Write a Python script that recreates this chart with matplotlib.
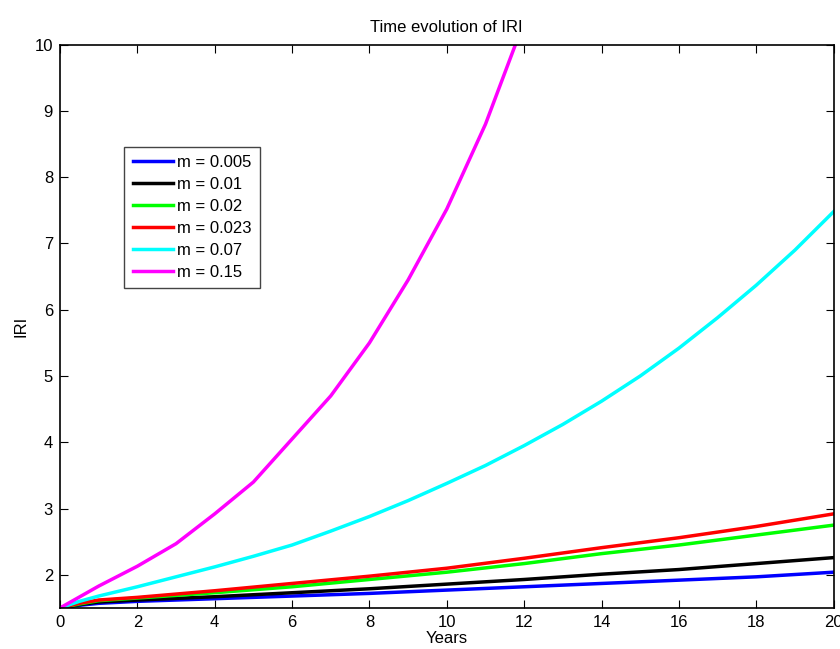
import matplotlib
matplotlib.use("Agg")
import matplotlib.pyplot as plt

plt.rcParams['font.family'] = ['Liberation Sans', 'DejaVu Sans']

years = [0, 0.5, 1, 2, 4, 6, 8, 10, 12, 14, 16, 18, 20]
iri_m0005 = [1.5, 1.54, 1.57, 1.60, 1.64, 1.68, 1.72, 1.77, 1.82, 1.87, 1.92, 1.97, 2.04]
iri_m001 = [1.5, 1.55, 1.59, 1.62, 1.67, 1.73, 1.79, 1.86, 1.93, 2.01, 2.08, 2.17, 2.26]
iri_m002 = [1.5, 1.56, 1.61, 1.65, 1.73, 1.82, 1.93, 2.04, 2.17, 2.32, 2.45, 2.60, 2.75]
iri_m0023 = [1.5, 1.57, 1.62, 1.66, 1.76, 1.87, 1.98, 2.10, 2.25, 2.41, 2.56, 2.73, 2.92]

years_m007 = [0, 0.5, 1, 2, 3, 4, 5, 6, 7, 8, 9, 10, 11, 12, 13, 14, 15, 16, 17, 18, 19, 20]
iri_m007 = [1.5, 1.60, 1.68, 1.82, 1.97, 2.12, 2.28, 2.45, 2.66, 2.88, 3.12, 3.38, 3.65,
            3.95, 4.27, 4.62, 5.00, 5.42, 5.88, 6.37, 6.90, 7.48]

years_m015 = [0, 1, 2, 3, 4, 5, 6, 7, 8, 9, 10, 11, 12]
iri_m015 = [1.5, 1.83, 2.13, 2.47, 2.92, 3.40, 4.05, 4.70, 5.50, 6.45, 7.52, 8.80, 10.35]

labels = ['m = 0.005', 'm = 0.01', 'm = 0.02', 'm = 0.023', 'm = 0.07', 'm = 0.15']
colors = ['#0000ff', '#000000', '#00ff00', '#ff0000', '#00ffff', '#ff00ff']

fig = plt.figure(figsize=(8.4, 6.49), dpi=100)
ax = fig.add_axes([0.0714, 0.0632, 0.921, 0.868])

series = [(years, iri_m0005), (years, iri_m001), (years, iri_m002), (years, iri_m0023),
          (years_m007, iri_m007), (years_m015, iri_m015)]
for (xs, vals), lab, col in zip(series, labels, colors):
    ax.plot(xs, vals, color=col, lw=2.5, label=lab)

ax.set_xlim(0, 20)
ax.set_ylim(1.5, 10)
ax.set_xticks(range(0, 21, 2))
ax.set_yticks(range(2, 11))
ax.tick_params(direction='in', top=True, right=True, labelsize=12, length=6, pad=5)
for s in ax.spines.values():
    s.set_linewidth(1.2)

ax.set_title('Time evolution of IRI', fontsize=12, pad=9)
ax.set_xlabel('Years', fontsize=12, labelpad=1)
ax.set_ylabel('IRI', fontsize=12, labelpad=4)

leg = ax.legend(loc='upper left', bbox_to_anchor=(0.083, 0.819), borderaxespad=0,
                fontsize=12, fancybox=False, edgecolor='#444444', framealpha=1,
                handlelength=2.4, handletextpad=0.25, labelspacing=0.42, borderpad=0.5)
leg.get_frame().set_linewidth(1.0)

fig.savefig('out.png', dpi=100)
